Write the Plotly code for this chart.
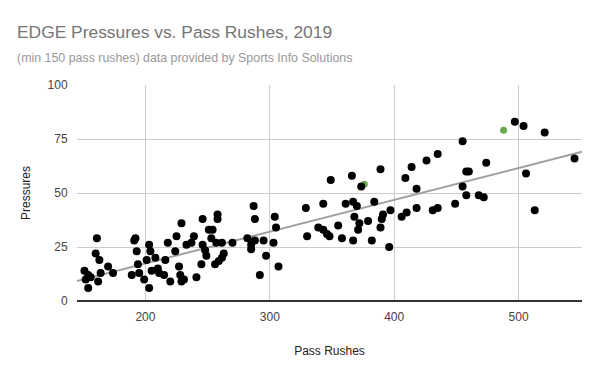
import numpy as np
import plotly.graph_objects as go

# Pass rushes (x) and pressures (y)
pass_rushes = [151, 152, 154, 156, 154, 161, 160, 163, 164, 162, 170, 174,
               191, 192, 193, 194, 189, 195, 199, 203, 201, 203, 204, 208, 205, 210, 211, 216, 218, 215, 220,
               225, 224, 229, 227, 228, 231, 229, 233, 237, 239, 241, 245,
               246, 246, 248, 249, 251, 254, 253, 258, 258, 257, 261.5, 263, 261.5, 259, 256,
               270, 282, 285, 285, 287, 288, 288, 295, 297, 292, 304, 305, 303, 307,
               329, 330, 343, 339, 343, 346, 348, 349, 355, 358, 361, 366, 367, 370, 367, 368, 372, 371,
               373.5, 379, 382, 384, 389, 391, 390, 389, 397, 396,
               409, 414, 426, 435, 455, 418, 406, 410, 418, 431, 435, 449, 455, 458, 458, 460, 468, 472, 474,
               497, 504, 521, 545, 506, 513]
pressures = [14, 10, 12, 11, 6, 29, 22, 19, 13, 9, 16, 13,
             28, 29, 23, 17, 12, 13, 10, 6, 19, 26, 23, 20, 14, 15, 13, 19, 27, 12, 9,
             30, 23, 36, 16, 12, 10, 9, 26, 27, 30, 11, 17,
             38, 26, 23.5, 21, 33, 33, 29, 40, 38, 27, 27, 22, 20, 18.5, 17,
             27, 29, 26, 24, 44, 38, 28, 28, 21, 12, 39, 34, 27, 16,
             43, 30, 45, 34, 33, 31, 30, 56, 35, 29, 45, 58, 46, 44, 28, 39, 36, 33,
             53, 37, 28, 46, 61, 40, 38, 34, 42, 25,
             57, 62, 65, 68, 74, 52, 39, 41, 43, 42, 43, 45, 53, 49, 60, 60, 49, 48, 64,
             83, 81, 78, 66, 59, 42]

# Highlighted players (green)
hl_pass_rushes = [376, 488]
hl_pressures = [54, 79]

x_ticks = [200, 300, 400, 500]
y_ticks = [0, 25, 50, 75, 100]

all_x = np.array(pass_rushes + hl_pass_rushes, dtype=float)
all_y = np.array(pressures + hl_pressures, dtype=float)
slope, intercept = np.polyfit(all_x, all_y, 1)
x_range = [145, 551]
trend_x = np.array(x_range)
trend_y = slope * trend_x + intercept

fig = go.Figure()
fig.add_trace(go.Scatter(x=trend_x, y=trend_y, mode="lines",
                         line=dict(color="#a0a0a0", width=2), hoverinfo="skip", showlegend=False))
fig.add_trace(go.Scatter(x=hl_pass_rushes, y=hl_pressures, mode="markers",
                         marker=dict(color="#6aa84f", size=7), showlegend=False))
fig.add_trace(go.Scatter(x=pass_rushes, y=pressures, mode="markers",
                         marker=dict(color="#000000", size=8), showlegend=False))

font_family = "Liberation Sans, Arial, sans-serif"
fig.update_layout(
    width=600, height=371,
    margin=dict(l=77, r=18, t=85, b=70, autoexpand=False),
    paper_bgcolor="white", plot_bgcolor="white",
    font=dict(family=font_family, size=12, color="#444444"),
    annotations=[
        dict(text="EDGE Pressures vs. Pass Rushes, 2019", xref="paper", yref="paper",
             x=-0.1228, y=1.247, xanchor="left", yanchor="middle", showarrow=False,
             font=dict(size=17.4, color="#757575", family=font_family)),
        dict(text="(min 150 pass rushes) data provided by Sports Info Solutions", xref="paper", yref="paper",
             x=-0.1228, y=1.125, xanchor="left", yanchor="middle", showarrow=False,
             font=dict(size=12.4, color="#999999", family=font_family)),
    ],
    xaxis=dict(range=x_range, tickvals=x_ticks, showgrid=True, gridcolor="#cccccc",
               zeroline=False, showline=False, ticks="outside", ticklen=5, tickcolor="white",
               automargin=False,
               title=dict(text="Pass Rushes", standoff=23, font=dict(size=12, color="#222222"))),
    yaxis=dict(range=[0, 100], tickvals=y_ticks, showgrid=True, gridcolor="#cccccc",
               zeroline=True, zerolinecolor="#333333", zerolinewidth=1.5, showline=False,
               ticks="outside", ticklen=6, tickcolor="white", automargin=False,
               title=dict(text="Pressures", standoff=14, font=dict(size=12, color="#222222"))),
)

fig.write_html("out.html", post_script="document.body.style.margin='0';",
               config={"displayModeBar": False})
